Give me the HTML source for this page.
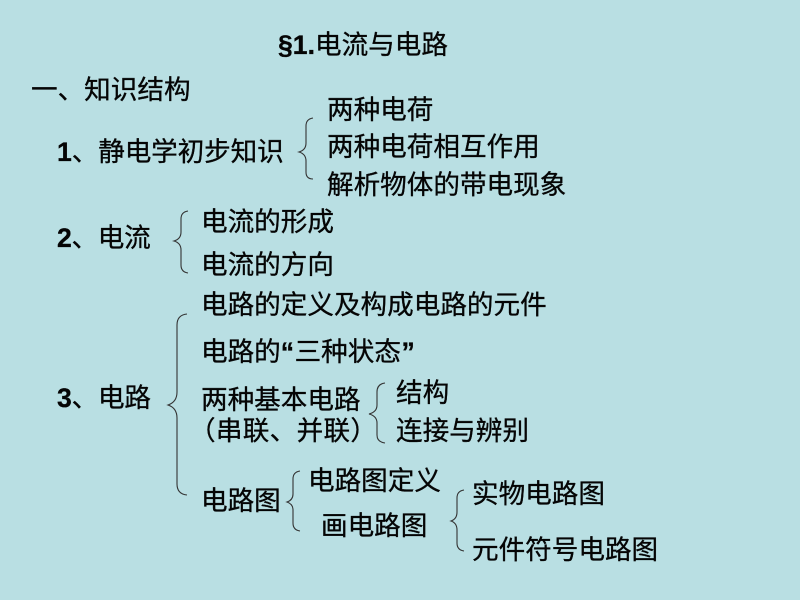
<!DOCTYPE html>
<html><head><meta charset="utf-8"><style>
html,body{margin:0;padding:0}
#p{position:relative;width:800px;height:600px;background:#b9dfe3;overflow:hidden;font-family:"Liberation Sans","Noto Sans CJK SC",sans-serif;font-size:26.6px;color:#050505;-webkit-text-stroke:.3px #050505}
#p div{position:absolute;white-space:nowrap;line-height:30px;height:30px}
b{font-weight:bold}
svg{position:absolute;left:0;top:0}
path{fill:none;stroke:#333;stroke-width:1.1}
</style></head><body><div id="p">
<svg width="800" height="600">
<path d="M313 118 Q306 119 306 126 V143 Q306 150 299 152 Q306 154 306 161 V172 Q306 179 313 179"/>
<path d="M188 211 Q181 212 181 219 V232 Q181 239 174 241 Q181 243 181 250 V265 Q181 272 188 273"/>
<path d="M187 314 Q177 315 177 325 V392 Q177 402 168 405 Q177 408 177 418 V484 Q177 494 187 495"/>
<path d="M385 383 Q377 384 377 392 V405 Q377 412 369 414 Q377 416 377 423 V435 Q377 442 385 443"/>
<path d="M300 471 Q293 472 293 479 V494 Q293 500 287 502 Q293 504 293 510 V523 Q293 530 300 531"/>
<path d="M464 490 Q457 491 457 498 V512 Q457 519 451 521 Q457 523 457 530 V543 Q457 550 464 551"/>
</svg>
<div style="left:278px;top:30px"><b>§1.</b>电流与电路</div>
<div style="left:31px;top:75px">一、知识结构</div>
<div style="left:57px;top:137px;letter-spacing:-.1px"><b>1</b>、静电学初步知识</div>
<div style="left:327px;top:95px">两种电荷</div>
<div style="left:327px;top:132px">两种电荷相互作用</div>
<div style="left:327px;top:170px">解析物体的带电现象</div>
<div style="left:57px;top:223px;letter-spacing:-.3px"><b>2</b>、电流</div>
<div style="left:201px;top:207px">电流的形成</div>
<div style="left:201px;top:250px">电流的方向</div>
<div style="left:57px;top:383px;letter-spacing:-.2px"><b>3</b>、电路</div>
<div style="left:201px;top:290px">电路的定义及构成电路的元件</div>
<div style="left:201px;top:337px">电路的<b style="letter-spacing:.5px">“</b>三种状态<b style="margin-left:.5px">”</b></div>
<div style="left:201px;top:385px">两种基本电路</div>
<div style="left:189px;top:416px;letter-spacing:.3px">（串联、并联）</div>
<div style="left:396px;top:378px">结构</div>
<div style="left:396px;top:416px">连接与辨别</div>
<div style="left:201px;top:486px">电路图</div>
<div style="left:308px;top:466px">电路图定义</div>
<div style="left:321px;top:511px">画电路图</div>
<div style="left:472px;top:479px">实物电路图</div>
<div style="left:472px;top:535px">元件符号电路图</div>
</div></body></html>
